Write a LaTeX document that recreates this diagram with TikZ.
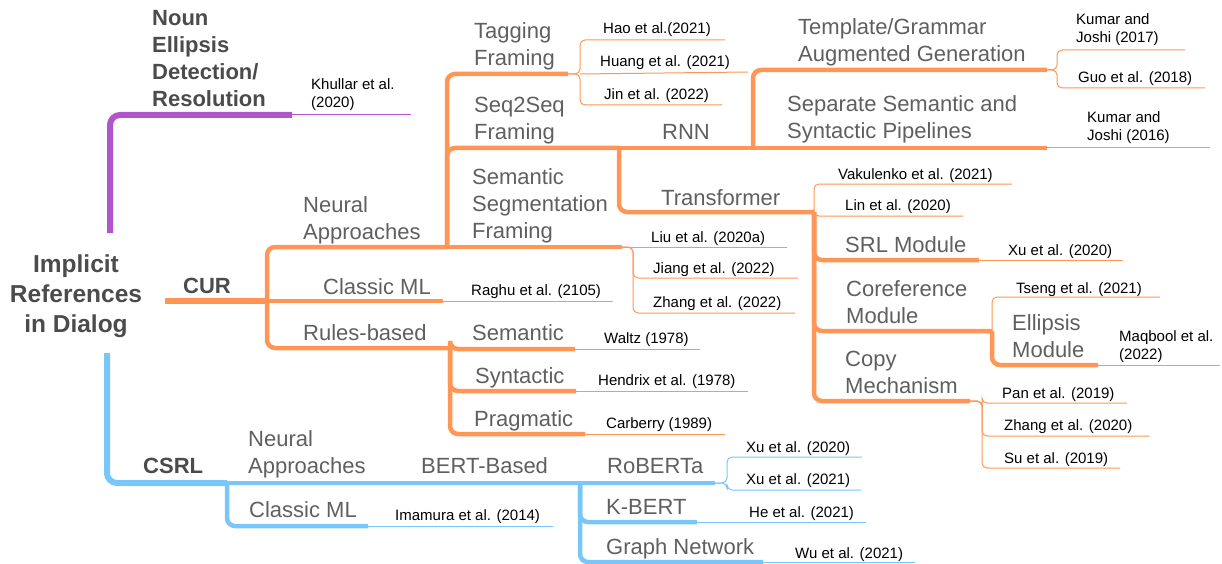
\documentclass[tikz,border=0pt]{standalone}
\usepackage{fontspec}
\setmainfont{Liberation Sans}
\definecolor{cOr}{RGB}{255,150,85}
\definecolor{cBl}{RGB}{120,198,250}
\definecolor{cPu}{RGB}{177,85,204}
\definecolor{cCat}{RGB}{95,95,95}
\definecolor{cHead}{RGB}{75,75,75}
\tikzset{
  cat/.style={inner sep=0pt, anchor=base west, align=left, text=cCat, font=\fontsize{22}{27}\selectfont},
  head/.style={inner sep=0pt, anchor=base west, align=left, text=cHead, font=\fontsize{22}{27}\selectfont\bfseries},
  cite/.style={inner sep=0pt, anchor=base west, align=left, text=black, font=\fontsize{15}{18}\selectfont},
  rootw/.style={line width=6pt, rounded corners=10pt},
  midw/.style={line width=4.5pt, rounded corners=8pt},
  thinw/.style={line width=1pt, rounded corners=5pt},
}
\begin{document}
\begin{tikzpicture}[x=1pt,y=-1pt]
\useasboundingbox (0,0) rectangle (1222,564);
% ---------- text nodes (multi-line nodes placed by their last baseline) ----------
\node[inner sep=0pt, anchor=base, align=center, text=cHead, font=\fontsize{24.5}{30}\selectfont\bfseries] (root) at (76,332) {Implicit\\References\\in Dialog};
\node[head] (noun) at (152,107) {Noun\\Ellipsis\\Detection/\\Resolution};
\node[cite] (khullar) at (311,108) {Khullar et al.\\(2020)};
\node[head] (cur) at (183,293) {CUR};
\node[head] (csrl) at (143,473) {CSRL};
% CUR
\node[cat] (naC) at (303,239) {Neural\\Approaches};
\node[cat] (cmC) at (323,294) {Classic ML};
\node[cite] (raghu) at (471,295) {Raghu et al. (2105)};
\node[cat] (rb) at (303,340) {Rules-based};
\node[cat] (tag) at (474,66) {Tagging\\Framing};
\node[cite] (hao) at (603,34) {Hao et al.(2021)};
\node[cite] (huang) at (600,67) {Huang et al. (2021)};
\node[cite] (jin) at (604,100) {Jin et al. (2022)};
\node[cat] (s2s) at (474,140) {Seq2Seq\\Framing};
\node[cat] (rnn) at (662,140) {RNN};
\node[cat] (ssf) at (472,238) {Semantic\\Segmentation\\Framing};
\node[cat] (trf) at (661,205) {Transformer};
\node[cite] (liu) at (651,242) {Liu et al. (2020a)};
\node[cite] (jiang) at (653,273) {Jiang et al. (2022)};
\node[cite] (zhang22) at (653,307) {Zhang et al. (2022)};
\node[cat] (tmpl) at (798,62) {Template/Grammar\\Augmented Generation};
\node[cat] (sep) at (787,139) {Separate Semantic and\\Syntactic Pipelines};
\node[cite] (kj17) at (1076,43) {Kumar and\\Joshi (2017)};
\node[cite] (guo) at (1078,83) {Guo et al. (2018)};
\node[cite] (kj16) at (1087,141) {Kumar and\\Joshi (2016)};
\node[cite] (vak) at (838,179) {Vakulenko et al. (2021)};
\node[cite] (lin) at (845,210) {Lin et al. (2020)};
\node[cat] (srl) at (845,252) {SRL Module};
\node[cite] (xu20a) at (1008,255) {Xu et al. (2020)};
\node[cat] (coref) at (846,323) {Coreference\\Module};
\node[cite] (tseng) at (1016,293) {Tseng et al. (2021)};
\node[cat] (ell) at (1012,357) {Ellipsis\\Module};
\node[cite] (maq) at (1119,359) {Maqbool et al.\\(2022)};
\node[cat] (copy) at (845,393) {Copy\\Mechanism};
\node[cite] (pan) at (1002,398) {Pan et al. (2019)};
\node[cite] (zhang20) at (1004,430) {Zhang et al. (2020)};
\node[cite] (su) at (1004,463) {Su et al. (2019)};
\node[cat] (sem) at (472,340) {Semantic};
\node[cat] (syn) at (475,383) {Syntactic};
\node[cat] (prag) at (474,426) {Pragmatic};
\node[cite] (waltz) at (604,343) {Waltz (1978)};
\node[cite] (hend) at (598,385) {Hendrix et al. (1978)};
\node[cite] (carb) at (606,428) {Carberry (1989)};
% CSRL
\node[cat] (naS) at (248,473) {Neural\\Approaches};
\node[cat] (cmS) at (249,517) {Classic ML};
\node[cite] (imam) at (395,520) {Imamura et al. (2014)};
\node[cat] (bert) at (421,473) {BERT-Based};
\node[cat] (rob) at (607,473) {RoBERTa};
\node[cat] (kb) at (606,514) {K-BERT};
\node[cat] (gn) at (606,554) {Graph Network};
\node[cite] (xu20b) at (746,452) {Xu et al. (2020)};
\node[cite] (xu21) at (746,484) {Xu et al. (2021)};
\node[cite] (he) at (749,517) {He et al. (2021)};
\node[cite] (wu) at (795,558) {Wu et al. (2021)};
% ---------- connector coordinates ----------
% purple
\coordinate (pS) at (110,233); \coordinate (pE) at (292,115); \coordinate (pT) at (411,115);
% CUR
\coordinate (curS) at (165,301); \coordinate (curJ) at (267,301);
\coordinate (naCE) at (447,247); \coordinate (cmCE) at (443,301); \coordinate (raghuE) at (613,301);
\coordinate (rbE) at (450,348);
\coordinate (tagE) at (568,74); \coordinate (tagJ) at (580,74);
\coordinate (haoE) at (725,40); \coordinate (huangE) at (748,72); \coordinate (jinE) at (722,105);
\coordinate (s2sE) at (619,148); \coordinate (rnnE) at (753,148);
\coordinate (tmplE) at (1047,70); \coordinate (tmplJ) at (1057,70);
\coordinate (kj17E) at (1185,50); \coordinate (guoE) at (1205,88);
\coordinate (sepE) at (1047,148); \coordinate (kj16E) at (1210,148);
\coordinate (ssfE) at (622,247); \coordinate (ssfJ) at (633,247);
\coordinate (liuE) at (787,247); \coordinate (jiangE) at (798,278); \coordinate (zh22E) at (795,313);
\coordinate (trfE) at (814,212);
\coordinate (vakE) at (1012,184); \coordinate (linE) at (963,216);
\coordinate (srlE) at (979,260); \coordinate (xu20aE) at (1123,260);
\coordinate (corE) at (992,331); \coordinate (tsengE) at (1160,297);
\coordinate (ellE) at (1098,365); \coordinate (maqE) at (1220,365);
\coordinate (copyE) at (970,401); \coordinate (copyJ) at (982,401);
\coordinate (panE) at (1127,403); \coordinate (zh20E) at (1149,436); \coordinate (suE) at (1120,468);
\coordinate (semE) at (575,349); \coordinate (waltzE) at (700,349);
\coordinate (synE) at (576,391); \coordinate (hendE) at (748,391);
\coordinate (pragE) at (585,434); \coordinate (carbE) at (725,434);
% CSRL
\coordinate (bS) at (107,353); \coordinate (bJ) at (227,483);
\coordinate (naSE) at (400,483); \coordinate (bertE) at (580,483);
\coordinate (cmSE) at (368,526); \coordinate (imamE) at (553,526);
\coordinate (robE) at (715,483); \coordinate (robJ) at (727,483);
\coordinate (xu20bE) at (862,457); \coordinate (xu21E) at (861,490);
\coordinate (kbE) at (697,522); \coordinate (heE) at (866,522);
\coordinate (gnE) at (763,562); \coordinate (wuE) at (915,562);
% ---------- connectors ----------
\begin{scope}[draw=cPu]
\draw[rootw] (pS) |- (pE);
\draw[thinw] (pE) -- (pT);
\end{scope}
\begin{scope}[draw=cOr]
\draw[rootw] (curS) -- (curJ);
\draw[midw] (curJ) |- (naCE);
\draw[midw] (curJ) -- (cmCE);
\draw[thinw] (cmCE) -- (raghuE);
\draw[midw] (curJ) |- (rbE);
% neural children
\draw[midw] (naCE) |- (tagE);
\draw[midw] (naCE) |- (s2sE);
\draw[midw] (naCE) -- (ssfE);
% tagging
\draw[thinw] (tagE) -- (tagJ) |- (haoE);
\draw[thinw] (tagJ) -- (huangE);
\draw[thinw] (tagE) -- (tagJ) |- (jinE);
% seq2seq
\draw[midw] (s2sE) -- (rnnE);
\draw[midw] (s2sE) |- (trfE);
\draw[midw] (rnnE) |- (tmplE);
\draw[midw] (rnnE) -- (sepE);
\draw[thinw] (sepE) -- (kj16E);
\draw[thinw] (tmplE) -- (tmplJ) |- (kj17E);
\draw[thinw] (tmplE) -- (tmplJ) |- (guoE);
% semantic segmentation
\draw[thinw] (ssfE) -- (liuE);
\draw[thinw] (ssfE) -- (ssfJ) |- (jiangE);
\draw[thinw] (ssfE) -- (ssfJ) |- (zh22E);
% transformer
\draw[thinw] (trfE) |- (vakE);
\draw[thinw] (trfE) |- (linE);
\draw[midw] (trfE) |- (srlE);
\draw[thinw] (srlE) -- (xu20aE);
\draw[midw] (trfE) |- (corE);
\draw[midw] (trfE) |- (copyE);
\draw[thinw] (corE) |- (tsengE);
\draw[midw] (corE) |- (ellE);
\draw[thinw] (ellE) -- (maqE);
\draw[thinw] (copyE) -- (copyJ) |- (panE);
\draw[thinw] (copyE) -- (copyJ) |- (zh20E);
\draw[thinw] (copyE) -- (copyJ) |- (suE);
% rules
\draw[midw] (rbE) |- (semE);
\draw[thinw] (semE) -- (waltzE);
\draw[midw] (rbE) |- (synE);
\draw[thinw] (synE) -- (hendE);
\draw[midw] (rbE) |- (pragE);
\draw[thinw] (pragE) -- (carbE);
\end{scope}
\begin{scope}[draw=cBl]
\draw[rootw] (bS) |- (bJ);
\draw[midw] (bJ) -- (naSE);
\draw[midw] (naSE) -- (bertE);
\draw[midw] (bJ) |- (cmSE);
\draw[thinw] (cmSE) -- (imamE);
\draw[midw] (bertE) -- (robE);
\draw[thinw] (robE) -- (robJ) |- (xu20bE);
\draw[thinw] (robE) -- (robJ) |- (xu21E);
\draw[midw] (bertE) |- (kbE);
\draw[thinw] (kbE) -- (heE);
\draw[midw] (bertE) |- (gnE);
\draw[thinw] (gnE) -- (wuE);
\end{scope}
\end{tikzpicture}
\end{document}
